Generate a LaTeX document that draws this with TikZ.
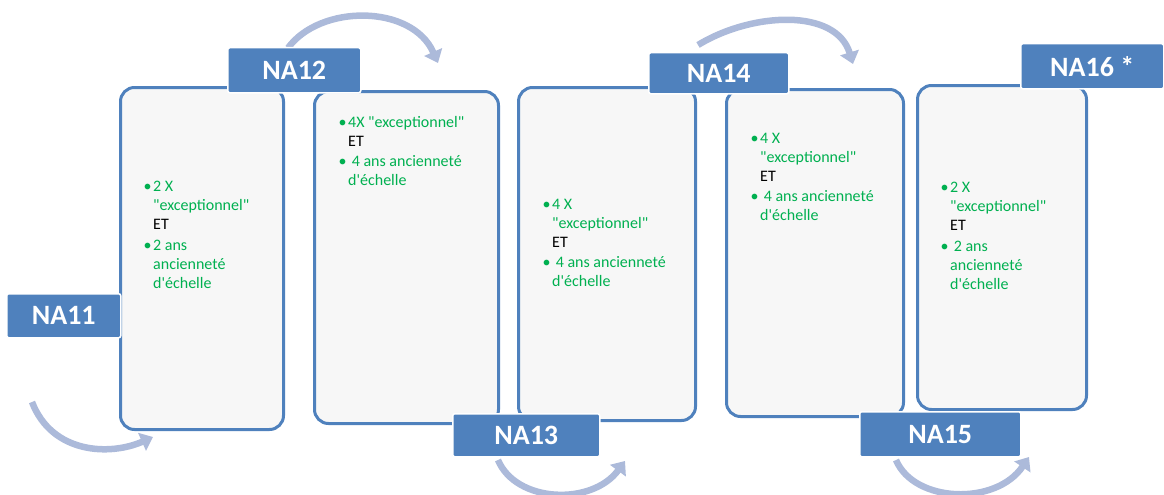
\documentclass[tikz,border=0pt]{standalone}
\usepackage{fontspec}
\setmainfont{Carlito}[Ligatures=TeXOff]
\usetikzlibrary{arrows.meta}
\definecolor{nablue}{RGB}{79,129,189}
\definecolor{arrowblue}{RGB}{172,186,218}
\definecolor{txtgreen}{RGB}{0,176,80}
\newcommand\bul{\llap{\textbullet\hspace{1.5pt}}}
\newcommand\et{\textcolor{black}{ET}}

\begin{document}
\begin{tikzpicture}[
    x=1pt, y=-1pt,
    card/.style={draw=nablue, line width=3pt, fill=black!3, rounded corners=14pt,
        anchor=north west, inner sep=0pt},
    tag/.style={fill=nablue, draw=white, line width=1.5pt, rounded corners=2pt,
        text=white, font=\fontsize{28}{28}\selectfont\bfseries,
        anchor=north west, inner sep=0pt},
    body/.style={anchor=north west, align=left, inner sep=0pt, text=txtgreen,
        font=\fontsize{16}{19}\selectfont},
    curvearrow/.style={draw=arrowblue, line width=6.5pt, -{Triangle[width=19pt,length=12pt]}}
    ]

\useasboundingbox (0,0) rectangle (1164,495);

% curved arrows
\coordinate (a1s) at (32,402);  \coordinate (a1e) at (153,437);
\coordinate (a2s) at (288,48);  \coordinate (a2e) at (438,63);
\coordinate (a3s) at (698,45);  \coordinate (a3e) at (853,64);
\coordinate (a4s) at (498,460); \coordinate (a4e) at (625,461);
\coordinate (a5s) at (896,460); \coordinate (a5e) at (1029,457);

\draw[curvearrow] (a1s) .. controls (52,454) and (110,456) .. (a1e);
\draw[curvearrow] (a2s) .. controls (320,4) and (412,4) .. (a2e);
\draw[curvearrow] (a3s) .. controls (752,12) and (836,8) .. (a3e);
\draw[curvearrow] (a4s) .. controls (516,503) and (592,506) .. (a4e);
\draw[curvearrow] (a5s) .. controls (914,503) and (996,506) .. (a5e);

% cards
\node[card, minimum width=163, minimum height=342] (box1) at (119,86) {};
\node[card, minimum width=184, minimum height=332] (box2) at (313,90) {};
\node[card, minimum width=177, minimum height=333] (box3) at (517,86) {};
\node[card, minimum width=177, minimum height=327] (box4) at (725,88) {};
\node[card, minimum width=169, minimum height=324] (box5) at (916,84) {};

\node[body] (txt1) at (153,181) {\bul 2 X\\ "exceptionnel"\\ \et\\[1.5pt] \bul 2 ans\\ ancienneté\\ d'échelle};
\node[body] (txt2) at (348,116) {\bul 4X "exceptionnel"\\ \et\\[1.5pt] \bul\ 4 ans ancienneté\\ d'échelle};
\node[body] (txt3) at (552,199) {\bul 4 X\\ "exceptionnel"\\ \et\\[1.5pt] \bul\ 4 ans ancienneté\\ d'échelle};
\node[body] (txt4) at (760,133) {\bul 4 X\\ "exceptionnel"\\ \et\\[1.5pt] \bul\ 4 ans ancienneté\\ d'échelle};
\node[body] (txt5) at (950,182) {\bul 2 X\\ "exceptionnel"\\ \et\\[1.5pt] \bul\ 2 ans\\ ancienneté\\ d'échelle};

% level tags
\node[tag, minimum width=114, minimum height=44] (na11) at (6,293) {NA11};
\node[tag, minimum width=133, minimum height=45] (na12) at (227,47) {NA12};
\node[tag, minimum width=147, minimum height=43] (na13) at (452,413) {NA13};
\node[tag, minimum width=140, minimum height=41] (na14) at (648,52) {NA14};
\node[tag, minimum width=161, minimum height=45] (na15) at (859,411) {NA15};
\node[tag, minimum width=143, minimum height=45] (na16) at (1020,43) {NA16 *};

\end{tikzpicture}
\end{document}
